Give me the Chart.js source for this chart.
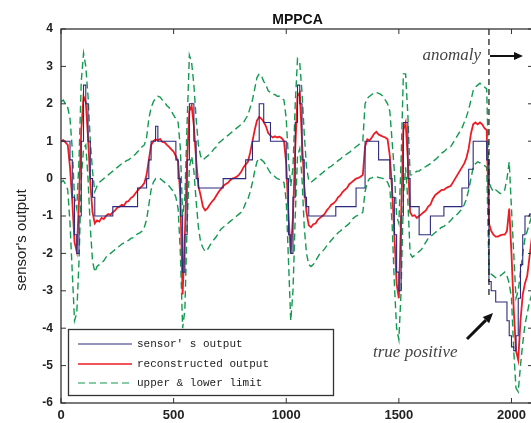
<!DOCTYPE html>
<html>
<head>
<meta charset="utf-8">
<script src="https://cdn.jsdelivr.net/npm/chart.js@4.4.1/dist/chart.umd.min.js"></script>
<style>
html, body { margin: 0; padding: 0; background: #fff; overflow: hidden; }
#wrap { width: 540px; height: 423px; }
</style>
</head>
<body>
<div id="wrap"><canvas id="grafica" width="540" height="423"></canvas></div>
<script>
// ticks del eje
const xTicks = [0, 500, 1000, 1500, 2000];
const yTicks = [-6, -5, -4, -3, -2, -1, 0, 1, 2, 3, 4];

// una muestra cada 10 pasos, de 0 a 2100 (una fila = 100 pasos)
const sensorOutput = [
    1, 1, 1, 1, 0.5, -0.5, -1.5, -2, -1, 1,
    2.5, 2, 1, 0, -0.5, -1, -1, -1, -1, -1,
    -1, -1, -1, -0.75, -0.75, -0.75, -0.75, -0.75, -0.75, -0.75,
    -0.75, -0.75, -0.75, -0.75, -0.25, -0.25, -0.25, -0.25, 0, 0.5,
    1, 1, 1.4, 1, 1, 1, 1, 1, 1, 1,
    1, 0.5, 0, -1, -2.5, -1.5, 0.5, 2, 2, 1,
    0, -0.25, -0.25, -0.25, -0.25, -0.25, -0.25, -0.25, -0.25, -0.25,
    -0.25, -0.25, 0, 0, 0, 0, 0, 0, 0, 0,
    0, 0, 0.5, 0.5, 0.5, 1, 1, 1, 2, 2,
    1.5, 1.5, 1.5, 1, 1, 1, 1, 1, 1, 1,
    0, -1.5, -2, -0.5, 1.5, 2.5, 2, 0.5, -0.5, -0.75,
    -1, -1, -1, -1, -1, -1, -1, -1, -1, -1,
    -1, -1, -0.75, -0.75, -0.75, -0.75, -0.75, -0.75, -0.75, -0.75,
    -0.75, -0.25, -0.25, -0.25, -0.25, 1, 1, 1, 1, 1,
    1, 0.5, 0.5, 0.5, 0.5, 0.5, 0, -0.5, -1.5, -2.5,
    -3, -1, 1.5, 1.5, 0, -0.75, -0.75, -0.75, -0.75, -1.5,
    -1.5, -1.5, -1.5, -1.5, -1, -1, -1, -1, -1, -1,
    -0.75, -0.75, -0.75, -0.75, -0.75, -0.75, -0.75, -0.75, -0.25, -0.25,
    -0.25, 0.25, 0.25, 1, 1, 1, 1, 1, 1, 0.5,
    -2.75, -3, -3, -3.3, -3.3, -3.3, -3.3, -3.3, -3.8, -4.2,
    -4.5, -4.6, -4.2, -3.2, -2.3, -1.5, -1, -1, -0.95, -0.95,
    -0.95
];

const reconstructed = [
    1.0, 1.03, 0.97, 0.9, 0.3, -0.6, -1.7, -1.95, -0.6, 1.3,
    2.2, 2.05, 1.1, -0.1, -0.9, -1.2, -1.12, -1.15, -1.05, -1.08,
    -1.0, -0.95, -0.97, -0.9, -0.85, -0.78, -0.75, -0.7, -0.72, -0.62,
    -0.6, -0.52, -0.48, -0.4, -0.32, -0.25, -0.2, -0.12, 0.1, 0.5,
    0.9, 1.0, 1.05, 1.02, 1.06, 0.98, 0.97, 0.9, 0.85, 0.78,
    0.72, 0.6, 0.45, -0.5, -3.1, -1.5, 0.5, 1.8, 1.95, 1.4,
    0.5, -0.2, -0.45, -0.75, -0.85, -0.8, -0.7, -0.62, -0.55, -0.45,
    -0.35, -0.28, -0.2, -0.15, -0.12, -0.05, 0.0, 0.02, 0.05, 0.1,
    0.18, 0.3, 0.38, 0.45, 0.7, 1.0, 1.3, 1.55, 1.65, 1.6,
    1.52, 1.4, 1.22, 1.15, 1.1, 1.13, 1.1, 1.12, 1.08, 1.0,
    0.4, -1.0, -2.0, -1.0, 0.8, 2.2, 2.3, 1.0, -0.2, -0.9,
    -1.25, -1.3, -1.22, -1.2, -1.1, -1.05, -1.0, -0.95, -0.85, -0.78,
    -0.7, -0.66, -0.6, -0.5, -0.45, -0.36, -0.3, -0.25, -0.15, -0.1,
    -0.05, 0.0, 0.02, 0.05, 0.1, 0.85, 1.05, 1.02, 1.1, 1.2,
    1.25, 1.18, 1.15, 1.12, 1.1, 1.05, 0.6, -0.3, -1.5, -2.8,
    -3.2, -1.0, 1.3, 1.5, 0.5, -0.9, -1.0, -0.98, -1.05, -1.0,
    -0.95, -0.9, -0.85, -0.75, -0.7, -0.55, -0.45, -0.4, -0.35, -0.3,
    -0.3, -0.25, -0.22, -0.2, -0.1, 0.0, 0.1, 0.2, 0.3, 0.4,
    0.55, 0.8, 1.2, 1.45, 1.5, 1.45, 1.5, 1.45, 1.35, 1.3,
    -1.2, -1.4, -1.5, -1.55, -1.55, -1.52, -1.5, -1.5, -1.4, -0.8,
    -2.0, -3.5, -4.6, -4.85, -3.8, -3.1, -2.8, -2.6, -2.1, -1.6,
    -1.2
];

const upperLimit = [
    2.05, 2.1, 2.0, 1.9, 1.6, 0.8, -0.5, -0.8, 0.5, 2.6,
    3.35, 3.0, 2.2, 1.0, 0.2, -0.35, -0.2, -0.1, -0.05, 0.0,
    0.05, 0.1, 0.15, 0.2, 0.25, 0.3, 0.35, 0.4, 0.42, 0.48,
    0.5, 0.55, 0.6, 0.65, 0.72, 0.78, 0.85, 0.9, 1.1, 1.6,
    1.9, 2.05, 2.15, 2.2, 2.18, 2.1, 2.05, 1.95, 1.9, 1.8,
    1.7, 1.6, 1.5, 0.8, -1.0, -0.5, 1.5, 3.3, 3.1, 2.5,
    1.6, 0.9, 0.6, 0.5, 0.55, 0.6, 0.65, 0.72, 0.8, 0.85,
    0.95, 1.0, 1.05, 1.1, 1.15, 1.2, 1.25, 1.3, 1.35, 1.4,
    1.45, 1.5, 1.6, 1.7, 1.9, 2.1, 2.4, 2.7, 2.8, 2.75,
    2.6, 2.5, 2.35, 2.3, 2.25, 2.25, 2.2, 2.2, 2.15, 2.1,
    1.6, 0.5, -0.2, 0.3, 2.0, 3.2, 3.1, 2.3, 1.2, 0.3,
    -0.05, -0.1, -0.05, 0.0, 0.05, 0.1, 0.15, 0.2, 0.25, 0.3,
    0.33, 0.38, 0.42, 0.48, 0.52, 0.58, 0.62, 0.66, 0.7, 0.75,
    0.8, 0.85, 0.9, 0.95, 1.0, 2.0, 2.15, 2.2, 2.25, 2.3,
    2.3, 2.28, 2.25, 2.2, 2.1, 2.0, 1.8, 1.0, 0.2, -1.0,
    -1.2, 0.5, 2.8, 2.8, 1.7, 0.1, 0.1, 0.15, 0.2, 0.2,
    0.25, 0.3, 0.32, 0.36, 0.4, 0.45, 0.5, 0.55, 0.62, 0.68,
    0.72, 0.78, 0.82, 0.85, 0.95, 1.05, 1.15, 1.25, 1.35, 1.5,
    1.65, 1.85, 2.1, 2.35, 2.45, 2.5, 2.55, 2.5, 2.45, 2.4,
    -0.1, -0.25, -0.35, -0.3, -0.35, -0.4, -0.35, -0.3, 0.0, 0.45,
    -0.8, -2.0, -3.2, -3.0, -2.5, -2.0, -1.6, -1.4, -1.2, -1.0,
    -0.8
];

const lowerLimit = [
    -0.1, -0.05, -0.15, -0.3, -1.2, -2.5, -3.8, -3.6, -2.2, 0.0,
    0.8, 0.9, 0.0, -1.3, -2.2, -2.5, -2.35, -2.3, -2.25, -2.2,
    -2.1, -2.05, -2.0, -1.95, -1.9, -1.85, -1.8, -1.75, -1.72, -1.68,
    -1.65, -1.6, -1.58, -1.52, -1.48, -1.45, -1.4, -1.3, -1.1, -0.7,
    -0.3, -0.1, 0.0, 0.02, 0.0, -0.05, -0.1, -0.15, -0.2, -0.28,
    -0.35, -0.5, -0.8, -2.0, -4.0, -3.5, -1.2, 0.3, 0.6, 0.2,
    -0.6, -1.3, -1.7, -1.85, -1.95, -1.9, -1.8, -1.7, -1.62, -1.55,
    -1.45, -1.35, -1.3, -1.25, -1.2, -1.15, -1.1, -1.05, -1.0, -0.95,
    -0.9, -0.8, -0.65, -0.55, -0.35, -0.1, 0.2, 0.45, 0.55, 0.5,
    0.45, 0.35, 0.25, 0.15, 0.1, 0.05, 0.0, -0.02, -0.05, -0.1,
    -0.6, -2.2, -3.8, -3.0, -1.0, 0.6, 0.8, 0.0, -1.3, -2.0,
    -2.3, -2.35, -2.3, -2.2, -2.1, -2.0, -1.95, -1.88, -1.8, -1.72,
    -1.65, -1.58, -1.52, -1.45, -1.4, -1.35, -1.3, -1.25, -1.2, -1.1,
    -1.05, -1.0, -0.98, -0.95, -0.9, -0.35, -0.1, 0.0, 0.02, 0.05,
    0.05, 0.03, 0.02, 0.0, -0.02, -0.1, -0.25, -1.2, -2.8, -4.0,
    -4.3, -3.0, -0.5, 0.3, -0.6, -2.0, -2.1, -2.05, -2.0, -1.95,
    -1.9, -1.8, -1.7, -1.6, -1.55, -1.5, -1.45, -1.4, -1.35, -1.3,
    -1.28, -1.22, -1.18, -1.12, -1.05, -1.0, -0.95, -0.88, -0.82, -0.7,
    -0.55, -0.3, 0.0, 0.3, 0.4, 0.45, 0.42, 0.38, 0.35, 0.3,
    -2.4, -2.55, -2.6, -2.65, -2.6, -2.6, -2.55, -2.5, -2.6, -2.8,
    -3.2, -4.6, -5.6, -5.7, -5.0, -4.4, -3.9, -3.6, -3.3, -3.1,
    -2.9
];

const anomalyStart = 1900;

// posicion de cada muestra en el eje x
const sampleX = sensorOutput.map((_, i) => i * 10);

function puntos(valores) {
    return valores.map((v, i) => ({ x: sampleX[i], y: v }));
}

function linea(ctx, x1, y1, x2, y2) {
    ctx.beginPath();
    ctx.moveTo(x1, y1);
    ctx.lineTo(x2, y2);
    ctx.stroke();
}

function flecha(ctx, x1, y1, x2, y2, grosor, cabeza) {
    const ang = Math.atan2(y2 - y1, x2 - x1);
    const bx = x2 - Math.cos(ang) * cabeza;
    const by = y2 - Math.sin(ang) * cabeza;
    ctx.lineWidth = grosor;
    linea(ctx, x1, y1, bx, by);
    ctx.beginPath();
    ctx.moveTo(x2, y2);
    ctx.lineTo(bx + Math.sin(ang) * cabeza * 0.45, by - Math.cos(ang) * cabeza * 0.45);
    ctx.lineTo(bx - Math.sin(ang) * cabeza * 0.45, by + Math.cos(ang) * cabeza * 0.45);
    ctx.closePath();
    ctx.fill();
}

// marco, ticks hacia dentro, titulo, leyenda y anotaciones
const decoracion = {
    id: 'decoracion',
    afterDraw(chart) {
        const ctx = chart.ctx;
        const area = chart.chartArea;
        const sx = chart.scales.x;
        const sy = chart.scales.y;
        ctx.save();

        // linea de inicio de anomalia
        const ax = sx.getPixelForValue(anomalyStart);
        ctx.strokeStyle = '#111';
        ctx.lineWidth = 1.2;
        ctx.setLineDash([6, 4]);
        linea(ctx, ax, area.top, ax, sy.getPixelForValue(-3.2));
        ctx.setLineDash([]);

        // marco
        ctx.strokeStyle = '#333';
        ctx.lineWidth = 1.3;
        ctx.strokeRect(area.left, area.top, area.right - area.left, area.bottom - area.top);

        ctx.lineWidth = 1;
        xTicks.forEach(v => {
            const px = sx.getPixelForValue(v);
            linea(ctx, px, area.top, px, area.top + 5);
            linea(ctx, px, area.bottom, px, area.bottom - 5);
        });
        yTicks.forEach(v => {
            const py = sy.getPixelForValue(v);
            linea(ctx, area.left, py, area.left + 5, py);
            linea(ctx, area.right, py, area.right - 6, py);
        });

        // titulo
        ctx.fillStyle = '#111';
        ctx.font = 'bold 14px "Liberation Sans", Arial, sans-serif';
        ctx.textAlign = 'center';
        ctx.textBaseline = 'middle';
        ctx.fillText('MPPCA', (area.left + area.right) / 2, 20);

        // titulo eje y
        ctx.save();
        ctx.translate(22, 240);
        ctx.rotate(-Math.PI / 2);
        ctx.fillStyle = '#222';
        ctx.font = '15px "Liberation Sans", Arial, sans-serif';
        ctx.fillText("sensor's output", 0, 0);
        ctx.restore();

        // leyenda
        const lx = 68.5, ly = 329.5, lw = 265, lh = 66;
        ctx.fillStyle = '#fff';
        ctx.fillRect(lx, ly, lw, lh);
        ctx.strokeStyle = '#333';
        ctx.lineWidth = 1.3;
        ctx.strokeRect(lx, ly, lw, lh);
        const filas = [344, 364, 383];
        ctx.font = '11px "Liberation Mono", "DejaVu Sans Mono", monospace';
        ctx.textAlign = 'left';
        chart.data.datasets.slice(0, 3).forEach((ds, i) => {
            ctx.strokeStyle = ds.borderColor;
            ctx.lineWidth = i === 1 ? 1.6 : 1.2;
            ctx.setLineDash(ds.borderDash || []);
            linea(ctx, 78, filas[i], 132, filas[i]);
            ctx.setLineDash([]);
            ctx.fillStyle = '#222';
            ctx.fillText(ds.label, 137, filas[i]);
        });

        // anotaciones
        ctx.fillStyle = '#444';
        ctx.font = 'italic 17px "Liberation Serif", "Times New Roman", serif';
        ctx.textBaseline = 'alphabetic';
        ctx.textAlign = 'right';
        ctx.fillText('anomaly', 481, 60);
        ctx.textAlign = 'left';
        ctx.fillText('true positive', 373, 357);

        ctx.fillStyle = '#111';
        ctx.strokeStyle = '#111';
        flecha(ctx, 490, 56, 523, 56, 2, 9);
        flecha(ctx, 467, 339, 493, 313, 3, 10);

        ctx.restore();
    }
};

const ctx = document.getElementById('grafica').getContext('2d');
new Chart(ctx, {
    type: 'line',
    data: {
        datasets: [
            {
                label: "sensor' s output",
                data: puntos(sensorOutput),
                borderColor: '#2b2b7d',
                borderWidth: 1.1,
                stepped: true,
                order: 0
            },
            {
                label: 'reconstructed output',
                data: puntos(reconstructed),
                borderColor: '#ec1c24',
                borderWidth: 1.8,
                order: 1
            },
            {
                label: 'upper & lower limit',
                data: puntos(upperLimit),
                borderColor: '#139a50',
                borderWidth: 1.4,
                borderDash: [7, 4],
                order: 2
            },
            {
                label: 'lower',
                data: puntos(lowerLimit),
                borderColor: '#139a50',
                borderWidth: 1.4,
                borderDash: [7, 4],
                order: 3
            }
        ]
    },
    options: {
        responsive: false,
        animation: false,
        devicePixelRatio: 1,
        layout: { padding: { left: 0, right: 6, top: 29, bottom: 0 } },
        elements: { point: { radius: 0 }, line: { tension: 0 } },
        plugins: {
            legend: { display: false },
            tooltip: { enabled: false },
            title: { display: false }
        },
        scales: {
            x: {
                type: 'linear',
                min: 0,
                max: 2100,
                afterBuildTicks: s => { s.ticks = xTicks.map(v => ({ value: v })); },
                afterFit: s => { s.height = 20; },
                grid: { display: false, drawTicks: false },
                border: { display: false },
                ticks: {
                    padding: 5,
                    maxRotation: 0,
                    autoSkip: false,
                    color: '#222',
                    callback: v => String(v),
                    font: { family: '"Liberation Sans", Arial, sans-serif', size: 13, weight: 'bold' }
                }
            },
            y: {
                type: 'linear',
                min: -6,
                max: 4,
                afterBuildTicks: s => { s.ticks = yTicks.map(v => ({ value: v })); },
                afterFit: s => { s.width = 61; },
                grid: { display: false, drawTicks: false },
                border: { display: false },
                ticks: {
                    padding: 8,
                    autoSkip: false,
                    color: '#222',
                    callback: v => String(v),
                    font: { family: '"Liberation Sans", Arial, sans-serif', size: 12, weight: 'bold' }
                }
            }
        }
    },
    plugins: [decoracion]
});
</script>
</body>
</html>
